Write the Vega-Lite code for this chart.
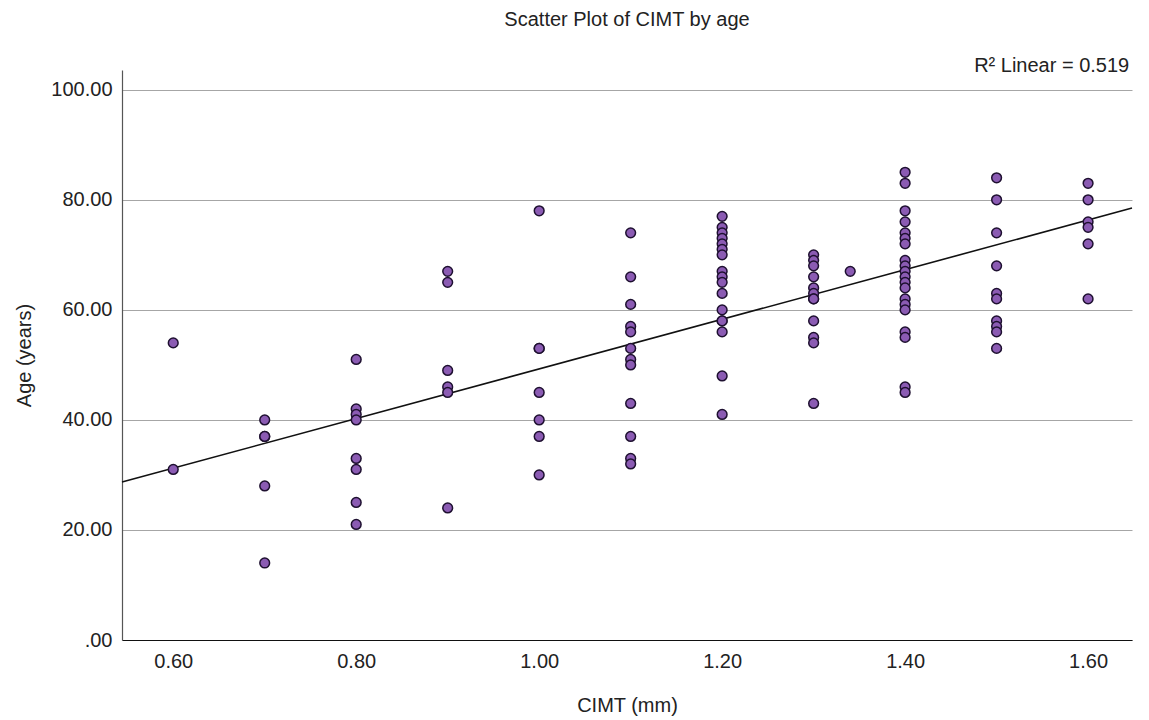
{
  "$schema": "https://vega.github.io/schema/vega-lite/v6.json",
  "width": 1010,
  "height": 570,
  "autosize": {"type": "none"},
  "padding": {"left": 122, "top": 70, "right": 17, "bottom": 80},
  "background": "white",
  "title": {"text": "Scatter Plot of CIMT by age", "fontSize": 20, "font": "Liberation Sans", "fontWeight": "normal", "color": "#222222", "offset": 26, "anchor": "middle"},
  "config": {"view": {"stroke": null}, "font": "Liberation Sans"},
  "datasets": {
    "pts": [
      {"cimt": 0.6, "age": 54}, {"cimt": 0.6, "age": 31},
      {"cimt": 0.7, "age": 40}, {"cimt": 0.7, "age": 37}, {"cimt": 0.7, "age": 37}, {"cimt": 0.7, "age": 28}, {"cimt": 0.7, "age": 14},
      {"cimt": 0.8, "age": 51}, {"cimt": 0.8, "age": 42}, {"cimt": 0.8, "age": 41}, {"cimt": 0.8, "age": 40}, {"cimt": 0.8, "age": 33}, {"cimt": 0.8, "age": 31}, {"cimt": 0.8, "age": 25}, {"cimt": 0.8, "age": 21},
      {"cimt": 0.9, "age": 67}, {"cimt": 0.9, "age": 65}, {"cimt": 0.9, "age": 49}, {"cimt": 0.9, "age": 46}, {"cimt": 0.9, "age": 45}, {"cimt": 0.9, "age": 24},
      {"cimt": 1.0, "age": 78}, {"cimt": 1.0, "age": 53}, {"cimt": 1.0, "age": 53}, {"cimt": 1.0, "age": 45}, {"cimt": 1.0, "age": 40}, {"cimt": 1.0, "age": 37}, {"cimt": 1.0, "age": 30},
      {"cimt": 1.1, "age": 74}, {"cimt": 1.1, "age": 66}, {"cimt": 1.1, "age": 61}, {"cimt": 1.1, "age": 57}, {"cimt": 1.1, "age": 56}, {"cimt": 1.1, "age": 53}, {"cimt": 1.1, "age": 51}, {"cimt": 1.1, "age": 50}, {"cimt": 1.1, "age": 43}, {"cimt": 1.1, "age": 37}, {"cimt": 1.1, "age": 33}, {"cimt": 1.1, "age": 32},
      {"cimt": 1.2, "age": 77}, {"cimt": 1.2, "age": 75}, {"cimt": 1.2, "age": 74}, {"cimt": 1.2, "age": 73}, {"cimt": 1.2, "age": 72}, {"cimt": 1.2, "age": 71}, {"cimt": 1.2, "age": 70}, {"cimt": 1.2, "age": 67}, {"cimt": 1.2, "age": 66}, {"cimt": 1.2, "age": 65}, {"cimt": 1.2, "age": 63}, {"cimt": 1.2, "age": 60}, {"cimt": 1.2, "age": 58}, {"cimt": 1.2, "age": 58}, {"cimt": 1.2, "age": 56}, {"cimt": 1.2, "age": 48}, {"cimt": 1.2, "age": 41},
      {"cimt": 1.3, "age": 70}, {"cimt": 1.3, "age": 69}, {"cimt": 1.3, "age": 68}, {"cimt": 1.3, "age": 66}, {"cimt": 1.3, "age": 64}, {"cimt": 1.3, "age": 63}, {"cimt": 1.3, "age": 62}, {"cimt": 1.3, "age": 62}, {"cimt": 1.3, "age": 58}, {"cimt": 1.3, "age": 55}, {"cimt": 1.3, "age": 54}, {"cimt": 1.3, "age": 43},
      {"cimt": 1.34, "age": 67},
      {"cimt": 1.4, "age": 85}, {"cimt": 1.4, "age": 83}, {"cimt": 1.4, "age": 78}, {"cimt": 1.4, "age": 76}, {"cimt": 1.4, "age": 74}, {"cimt": 1.4, "age": 73}, {"cimt": 1.4, "age": 72}, {"cimt": 1.4, "age": 69}, {"cimt": 1.4, "age": 68}, {"cimt": 1.4, "age": 67}, {"cimt": 1.4, "age": 66}, {"cimt": 1.4, "age": 65}, {"cimt": 1.4, "age": 64}, {"cimt": 1.4, "age": 62}, {"cimt": 1.4, "age": 61}, {"cimt": 1.4, "age": 60}, {"cimt": 1.4, "age": 56}, {"cimt": 1.4, "age": 55}, {"cimt": 1.4, "age": 46}, {"cimt": 1.4, "age": 45},
      {"cimt": 1.5, "age": 84}, {"cimt": 1.5, "age": 80}, {"cimt": 1.5, "age": 74}, {"cimt": 1.5, "age": 68}, {"cimt": 1.5, "age": 63}, {"cimt": 1.5, "age": 62}, {"cimt": 1.5, "age": 58}, {"cimt": 1.5, "age": 57}, {"cimt": 1.5, "age": 56}, {"cimt": 1.5, "age": 53},
      {"cimt": 1.6, "age": 83}, {"cimt": 1.6, "age": 80}, {"cimt": 1.6, "age": 76}, {"cimt": 1.6, "age": 75}, {"cimt": 1.6, "age": 72}, {"cimt": 1.6, "age": 62}
    ],
    "fit": [
      {"cimt": 0.544, "age": 28.7},
      {"cimt": 1.648, "age": 78.5}
    ],
    "note": [
      {"cimt": 1.645, "age": 104.4, "label": "R² Linear = 0.519"}
    ]
  },
  "layer": [
    {
      "data": {"name": "pts"},
      "mark": {"type": "point", "filled": false, "opacity": 0},
      "encoding": {
        "x": {"field": "cimt", "type": "quantitative", "scale": {"domain": [0.544, 1.648], "nice": false, "zero": false},
          "axis": {"title": "CIMT (mm)", "values": [0.6, 0.8, 1.0, 1.2, 1.4, 1.6], "format": ".2f", "grid": false, "ticks": false, "domainColor": "#111111", "domainWidth": 1.2, "labelFontSize": 20, "labelFont": "Liberation Sans", "labelColor": "#222222", "labelPadding": 11, "titleFontSize": 20, "titleFont": "Liberation Sans", "titleFontWeight": "normal", "titleColor": "#222222", "titlePadding": 24}},
        "y": {"field": "age", "type": "quantitative", "scale": {"domain": [0, 103.6], "nice": false},
          "axis": {"title": "Age (years)", "values": [0, 20, 40, 60, 80, 100], "labelExpr": "datum.value == 0 ? '.00' : format(datum.value, '.2f')", "grid": true, "gridColor": "#a6a6a6", "gridWidth": 1, "ticks": false, "domainColor": "#555555", "domainWidth": 1.2, "labelFontSize": 20, "labelFont": "Liberation Sans", "labelColor": "#222222", "labelPadding": 10, "titleFontSize": 20, "titleFont": "Liberation Sans", "titleFontWeight": "normal", "titleColor": "#222222", "titlePadding": 16}}
      }
    },
    {
      "data": {"name": "fit"},
      "mark": {"type": "line", "color": "#111111", "strokeWidth": 1.6},
      "encoding": {
        "x": {"field": "cimt", "type": "quantitative"},
        "y": {"field": "age", "type": "quantitative"}
      }
    },
    {
      "data": {"name": "pts"},
      "mark": {"type": "circle", "size": 95, "fill": "#8b5bb3", "fillOpacity": 1, "stroke": "#1e1030", "strokeWidth": 1.5},
      "encoding": {
        "x": {"field": "cimt", "type": "quantitative"},
        "y": {"field": "age", "type": "quantitative"}
      }
    },
    {
      "data": {"name": "note"},
      "mark": {"type": "text", "align": "right", "baseline": "middle", "fontSize": 20, "font": "Liberation Sans", "color": "#222222"},
      "encoding": {
        "x": {"field": "cimt", "type": "quantitative"},
        "y": {"field": "age", "type": "quantitative"},
        "text": {"field": "label"}
      }
    }
  ]
}
